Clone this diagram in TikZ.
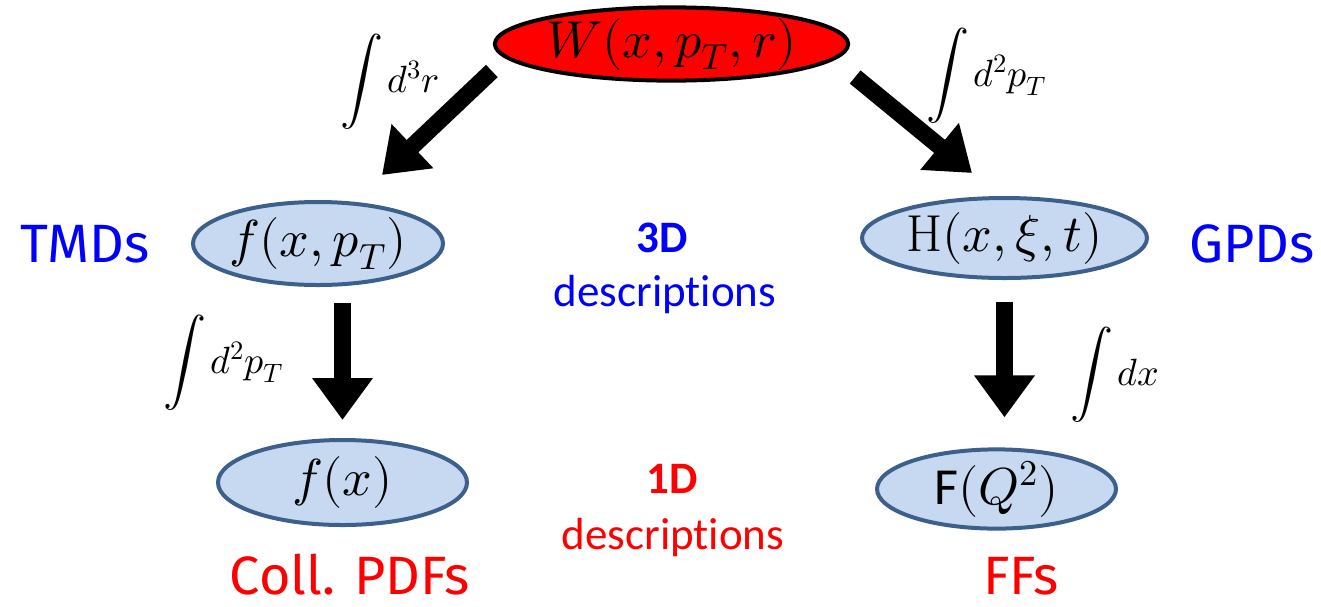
\documentclass[tikz,border=0pt]{standalone}
\usepackage{fontspec}
\usepackage{unicode-math}
\setmathfont{Latin Modern Math}
\usepackage{graphicx}
\newfontfamily\carl[Ligatures=NoCommon]{Carlito}
\newfontfamily\comicf{Fira Sans}
\usetikzlibrary{shapes.geometric,arrows.meta}
\definecolor{ellfill}{RGB}{198,217,240}
\definecolor{elldraw}{RGB}{60,95,140}
\definecolor{pblue}{RGB}{0,0,255}
\definecolor{pred}{RGB}{255,0,0}
\newcommand{\myint}{{\fontsize{43}{48}\selectfont$\displaystyle\int$}\hspace{4pt}}
\tikzset{
  ell/.style={ellipse, draw=elldraw, fill=ellfill, line width=4pt, inner sep=0pt,
    font=\fontsize{52}{60}\selectfont},
  topell/.style={ellipse, draw=black, fill=pred, line width=4pt, inner sep=0pt,
    font=\fontsize{52}{60}\selectfont},
  bigarrow/.style={line width=17pt, -{Triangle[length=42pt,width=58pt]}},
  famlabel/.style={anchor=base, inner sep=0pt, font=\comicf\fontsize{54}{62}\selectfont},
  desc/.style={anchor=base, inner sep=0pt, font=\carl\fontsize{45}{54}\selectfont},
  integ/.style={anchor=base west, inner sep=0pt, font=\fontsize{38}{44}\selectfont},
}
\begin{document}
\begin{tikzpicture}[x=1pt,y=-1pt]
\useasboundingbox (0,0) rectangle (1321,606);
\node[topell, minimum width=327pt, minimum height=72pt] (W) at (671.5,44) {$W(x,p_T,r)$};
\node[ell, minimum width=246pt, minimum height=83pt] (tmd) at (318,243.5) {$f(x,p_T)$};
\node[ell, minimum width=285pt, minimum height=80pt] (H) at (1004.5,238) {$\mathrm{H}(x,\mupxi,t)$};
\node[ell, minimum width=249pt, minimum height=85pt] (fx) at (342.5,482.5) {$f(x)$};
\node[ell, minimum width=239pt, minimum height=78pt] (F) at (996.5,489) {{\carl F}$(Q^2)$};

\draw[bigarrow] ([shift={(-1,27)}]W.west) -- ([shift={(64,-25)}]tmd.north);
\draw[bigarrow] ([shift={(5,33)}]W.east) -- ([shift={(-32.5,-23)}]H.north);
\draw[bigarrow, shorten <=16pt, shorten >=18pt] (fx.north |- tmd.south) -- (fx.north);
\draw[bigarrow, shorten <=22pt, shorten >=30pt] (H.south) -- (H.south |- F.north);

\node[famlabel, text=pblue] (tmdl) at (85,262) {TMDs};
\node[famlabel, text=pblue] (gpdl) at (1252,262) {GPDs};
\node[desc, text=pblue] (d3) at (662,252) {\bfseries 3D};
\node[desc, text=pblue] (d3t) at (665,306) {descriptions};
\node[desc, text=pred] (d1) at (672,493) {\bfseries 1D};
\node[desc, text=pred] (d1t) at (673,549) {descriptions};
\node[famlabel, text=pred] (pdfl) at (350,594) {Coll. PDFs};
\node[famlabel, text=pred] (ffl) at (1021,594) {FFs};

\node[integ] (i1) at (340,92) {\myint$d^3r$};
\node[integ] (i2) at (926,86) {\myint$d^2p_T$};
\node[integ] (i3) at (163,373) {\myint$d^2p_T$};
\node[integ] (i4) at (1070,385) {\myint$dx$};
\end{tikzpicture}
\end{document}
